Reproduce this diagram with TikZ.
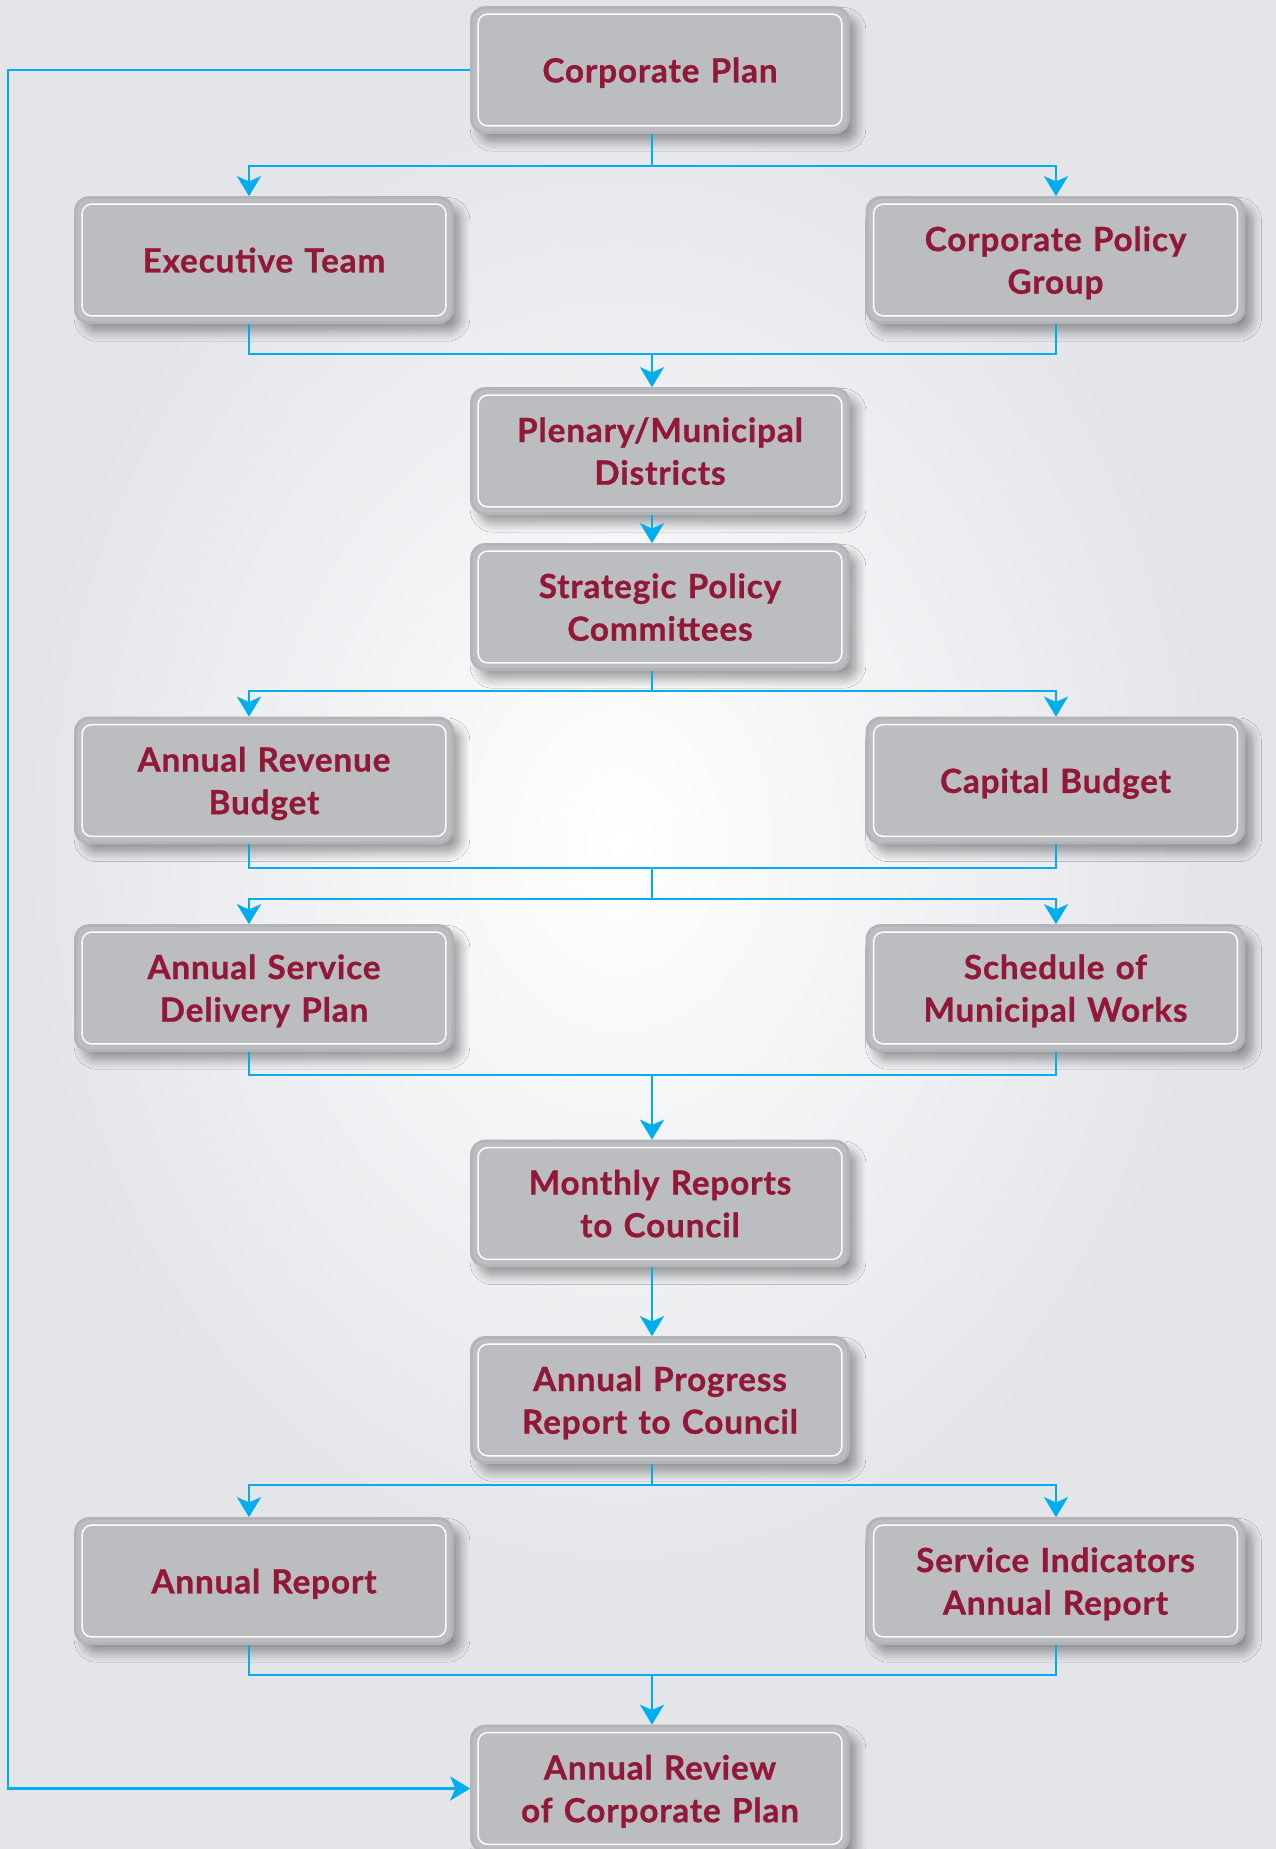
\documentclass[tikz,border=0pt]{standalone}
\usepackage{fontspec}
\setmainfont{Lato}[BoldFeatures={FakeBold=0.8,LetterSpace=2.5}]
\usetikzlibrary{arrows.meta,shadows.blur,calc}
\definecolor{bgc}{HTML}{E3E5E9}
\definecolor{boxfill}{HTML}{BCBDC0}
\definecolor{boxedge}{HTML}{B3B4B7}
\definecolor{txt}{HTML}{921838}
\definecolor{conn}{HTML}{00AEEF}
\begin{document}
\begin{tikzpicture}[x=0.75pt,y=-0.75pt,
  pbox/.style={rounded corners=10pt, fill=boxfill, draw=boxedge, line width=2pt,
    minimum width=282.75pt, minimum height=93.75pt, text width=270pt, align=center,
    font=\fontsize{25}{32}\selectfont\bfseries, text=txt, text depth=0pt,
    blur shadow={shadow xshift=6pt, shadow yshift=-7pt, shadow blur radius=7pt, shadow blur steps=12, shadow opacity=38},
    path picture={\draw[white,line width=1.1pt,rounded corners=7pt]
      ([shift={(5pt,-5pt)}]path picture bounding box.north west) rectangle
      ([shift={(-5pt,5pt)}]path picture bounding box.south east);}},
  twoline/.style={text depth=32pt},
  cline/.style={conn, line width=2.2pt},
  arr/.style={cline, -{Stealth[length=15pt,width=18pt,inset=4pt]}}]
\useasboundingbox (0,0) rectangle (1276,1849);
\clip (0,0) rectangle (1276,1849);
\fill[bgc] (0,0) rectangle (1276,1849);
\shade[inner color=white, outer color=bgc] (620,840) ellipse (600 and 760);

\node[pbox] (cp) at (660,70) {Corporate Plan};
\node[pbox] (et) at (264,260) {Executive Team};
\node[pbox,twoline] (cpg) at (1055.5,260) {Corporate Policy\\Group};
\node[pbox,twoline] (pmd) at (660,451) {Plenary/Municipal\\Districts};
\node[pbox,twoline] (spc) at (660,607) {Strategic Policy\\Committees};
\node[pbox,twoline] (arb) at (264,780.5) {Annual Revenue\\Budget};
\node[pbox] (cb) at (1055.5,780.5) {Capital Budget};
\node[pbox,twoline] (asdp) at (264,988) {Annual Service\\Delivery Plan};
\node[pbox,twoline] (smw) at (1055.5,988) {Schedule of\\Municipal Works};
\node[pbox,twoline] (mrc) at (660,1203.5) {Monthly Reports\\to Council};
\node[pbox,twoline] (aprc) at (660,1400) {Annual Progress\\Report to Council};
\node[pbox] (ar) at (264,1581) {Annual Report};
\node[pbox,twoline] (siar) at (1055.5,1581) {Service Indicators\\Annual Report};
\node[pbox,twoline] (arcp) at (660,1788.5) {Annual Review\\of Corporate Plan};

\coordinate (xL) at (249,0);
\coordinate (xC) at (652,0);
\coordinate (xR) at (1056,0);
\coordinate (xLoop) at (8,0);

\coordinate (b1) at (652,166);
\draw[cline] (cp.south -| b1) -- (b1);
\draw[arr] (b1) -| (et.north -| xL);
\draw[arr] (b1) -| (cpg.north -| xR);

\coordinate (b2) at (652,354);
\draw[cline] (et.south -| xL) |- (b2) -| (cpg.south -| xR);
\draw[arr] (b2) -- (pmd.north -| b2);

\draw[arr] (pmd.south -| xC) -- (spc.north -| xC);

\coordinate (b4) at (652,691);
\draw[cline] (spc.south -| b4) -- (b4);
\draw[arr] (b4) -| (arb.north -| xL);
\draw[arr] (b4) -| (cb.north -| xR);

\coordinate (b5a) at (652,868);
\coordinate (b5b) at (652,899);
\draw[cline] (arb.south -| xL) |- (b5a) -| (cb.south -| xR);
\draw[cline] (b5a) -- (b5b);
\draw[arr] (b5b) -| (asdp.north -| xL);
\draw[arr] (b5b) -| (smw.north -| xR);

\coordinate (b6) at (652,1075);
\draw[cline] (asdp.south -| xL) |- (b6) -| (smw.south -| xR);
\draw[arr] (b6) -- (mrc.north -| b6);

\draw[arr] (mrc.south -| xC) -- (aprc.north -| xC);

\coordinate (b8) at (652,1485);
\draw[cline] (aprc.south -| b8) -- (b8);
\draw[arr] (b8) -| (ar.north -| xL);
\draw[arr] (b8) -| (siar.north -| xR);

\coordinate (b9) at (652,1675);
\draw[cline] (ar.south -| xL) |- (b9) -| (siar.south -| xR);
\draw[arr] (b9) -- (arcp.north -| b9);

\draw[arr] (cp.west) -- (cp.west -| xLoop) |- (arcp.west);
\end{tikzpicture}
\end{document}
